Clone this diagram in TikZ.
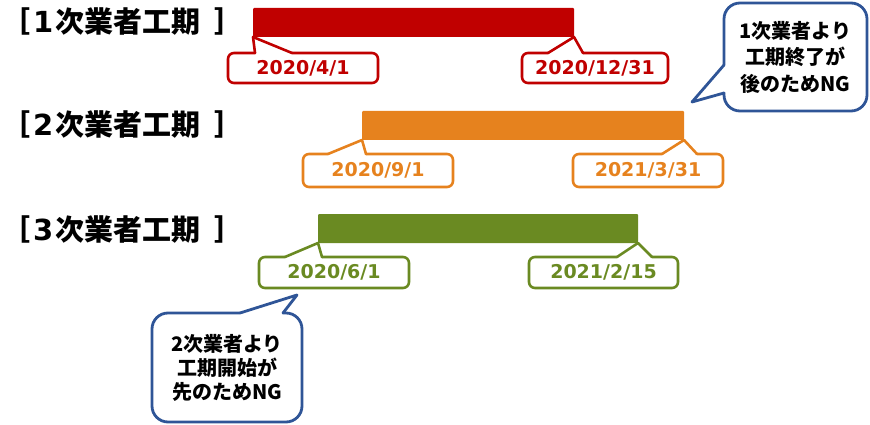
\documentclass[tikz,border=0pt]{standalone}
\usepackage{fontspec}
\newfontfamily\jp{Noto Sans CJK JP}
\newfontfamily\dv{DejaVu Sans}
\usetikzlibrary{calc}
\definecolor{cRed}{HTML}{C00000}
\definecolor{cOrange}{HTML}{E6821E}
\definecolor{cGreen}{HTML}{6A8A22}
\definecolor{cBlue}{HTML}{2F5597}
\tikzset{
  title/.style={anchor=west,inner sep=0,font=\jp\bfseries\fontsize{29}{35}\selectfont},
  barbox/.style={fill=#1,draw=none,inner sep=0,outer sep=0,rounded corners=1},
  datebox/.style={inner sep=0,outer sep=0,minimum width=150,text=#1,font=\dv\bfseries\fontsize{19}{22}\selectfont},
  dateline/.style={draw=#1,line width=2.6pt,line cap=round,line join=round},
  notebox/.style={inner sep=0,outer sep=0,align=center,font=\jp\bfseries\fontsize{20}{#1}\selectfont},
  noteline/.style={draw=cBlue,line width=2.8pt,line cap=round,line join=round},
}
\newcommand\ttl[1]{［\hspace*{3pt}{\dv\bfseries #1}\hspace*{2pt}次業者工期\hspace*{14pt}］}
% #1 style colour, #2 node, #3 left base x, #4 right base x, #5 tip
\newcommand\datecallout[5]{%
  \draw[dateline=#1,rounded corners=6] (#3,0 |- #2.north) -- (#2.north west) -- (#2.south west) -- (#2.south east) -- (#2.north east) -- (#4,0 |- #2.north);
  \draw[dateline=#1] (#4,0 |- #2.north) -- (#5) -- (#3,0 |- #2.north);}
\begin{document}
\begin{tikzpicture}[x=1pt,y=-1pt]
\useasboundingbox (0,0) rectangle (870,425);
% titles
\node[title] (t1) at (1,22) {\ttl{1}};
\node[title] (t2) at (1,125) {\ttl{2}};
\node[title] (t3) at (1,230) {\ttl{3}};
% bars
\node[barbox=cRed,minimum width=321,minimum height=29] (b1) at (413.5,22.5) {};
\node[barbox=cOrange,minimum width=322,minimum height=29] (b2) at (523,125.5) {};
\node[barbox=cGreen,minimum width=320,minimum height=29] (b3) at (478,228.5) {};
% dates
\node[datebox=cRed,minimum height=30] (d1a) at (303,68) {2020/4/1};
\node[datebox=cRed,minimum height=30,minimum width=146] (d1b) at (595,68) {2020/12/31};
\node[datebox=cOrange,minimum height=33] (d2a) at (378,170.5) {2020/9/1};
\node[datebox=cOrange,minimum height=33] (d2b) at (648,170.5) {2021/3/31};
\node[datebox=cGreen,minimum height=31] (d3a) at (334,272.5) {2020/6/1};
\node[datebox=cGreen,minimum height=31,minimum width=149] (d3b) at (603.5,272.5) {2021/2/15};
\datecallout{cRed}{d1a}{255}{292}{b1.south west}
\datecallout{cRed}{d1b}{548}{583}{b1.south east}
\datecallout{cOrange}{d2a}{328}{366}{b2.south west}
\datecallout{cOrange}{d2b}{662}{697}{b2.south east}
\datecallout{cGreen}{d3a}{285}{322}{b3.south west}
\datecallout{cGreen}{d3b}{617}{652}{b3.south east}
% note callouts
\node[notebox=26.5,minimum width=143,minimum height=108] (n1) at (795.5,57) {1次業者より\\工期終了が\\後のためNG};
\coordinate (p1) at (692,102);
\draw[noteline,rounded corners=16] (n1.west |- 0,93) -- (n1.south west) -- (n1.south east) -- (n1.north east) -- (n1.north west) -- (n1.west |- 0,65);
\draw[noteline] (n1.west |- 0,65) -- (p1) -- (n1.west |- 0,93);
\node[notebox=24,minimum width=150,minimum height=109] (n2) at (227,367.5) {2次業者より\\工期開始が\\先のためNG};
\coordinate (p2) at (297,295);
\draw[noteline,rounded corners=16] (240,0 |- n2.north) -- (n2.north west) -- (n2.south west) -- (n2.south east) -- (n2.north east) -- (283,0 |- n2.north);
\draw[noteline] (283,0 |- n2.north) -- (p2) -- (240,0 |- n2.north);
\end{tikzpicture}
\end{document}
